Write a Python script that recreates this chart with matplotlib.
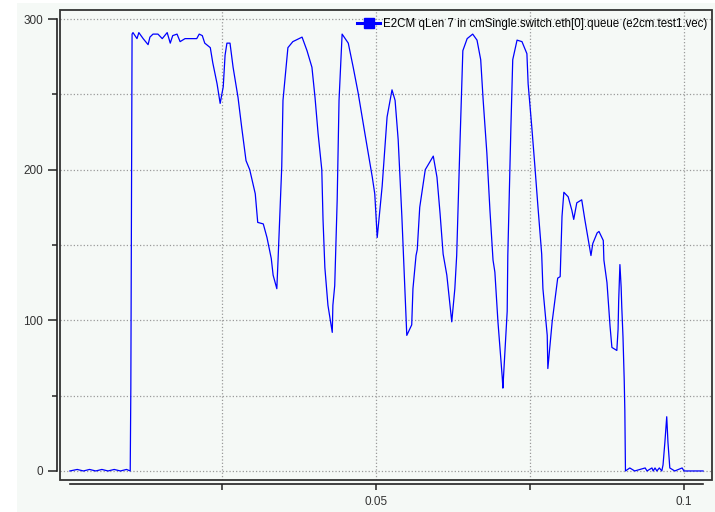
import matplotlib
matplotlib.use("Agg")
import matplotlib.pyplot as plt
from matplotlib.patches import Rectangle
from matplotlib.lines import Line2D

plt.rcParams['font.family'] = ['Liberation Sans', 'DejaVu Sans']

# queue length vector (time in s, qLen)
t = [0.0003, 0.0015, 0.0025, 0.0035, 0.0045, 0.0055, 0.0065, 0.0075, 0.0085, 0.0095,
     0.0101, 0.0102, 0.0103, 0.0104, 0.01055, 0.0112, 0.0115, 0.0122, 0.0130, 0.0133,
     0.0138, 0.0146, 0.0153, 0.0161, 0.0166, 0.0170, 0.0177, 0.0182, 0.0190, 0.0195,
     0.0209, 0.0213, 0.0218, 0.0222, 0.0231, 0.0235, 0.0242, 0.0247, 0.0252, 0.0255,
     0.0258, 0.0263, 0.0268, 0.0276, 0.0282, 0.0289, 0.0295, 0.0304, 0.0308, 0.0317,
     0.0323, 0.0330, 0.0333, 0.0339, 0.0341, 0.0347, 0.0349, 0.0354, 0.0357, 0.0365,
     0.0380, 0.0388, 0.0396, 0.0401, 0.0406, 0.0412, 0.0414, 0.0417, 0.0422, 0.0429,
     0.0430, 0.0433, 0.0437, 0.0440, 0.0445, 0.0455, 0.0463, 0.0471, 0.0482, 0.0494,
     0.0498, 0.0502, 0.0510, 0.0518, 0.0526, 0.0531, 0.0536, 0.0542, 0.0545, 0.0547,
     0.0550, 0.0558, 0.0560, 0.0565, 0.0567, 0.0571, 0.0580, 0.0593, 0.0599, 0.0604,
     0.0609, 0.0615, 0.0623, 0.0628, 0.0631, 0.0636, 0.0641, 0.0648, 0.0657, 0.0664,
     0.0670, 0.0674, 0.0680, 0.0685, 0.0690, 0.0693, 0.0698, 0.0705, 0.0706, 0.0709,
     0.0713, 0.0714, 0.0719, 0.0722, 0.0729, 0.0737, 0.0745, 0.0747, 0.0753, 0.0758,
     0.0763, 0.0769, 0.0771, 0.0778, 0.0779, 0.0781, 0.0786, 0.0791, 0.0795, 0.0799,
     0.0802, 0.0805, 0.0812, 0.0818, 0.0821, 0.0826, 0.0834, 0.0839, 0.0844, 0.0849,
     0.0852, 0.0859, 0.0862, 0.0869, 0.0870, 0.0875, 0.0877, 0.0880, 0.0883, 0.0891,
     0.0893, 0.0894, 0.0896, 0.0898, 0.0899, 0.0901, 0.0903, 0.0904, 0.0905, 0.0912,
     0.0920, 0.0937, 0.0940, 0.0948, 0.0950, 0.0953, 0.0956, 0.0960, 0.0964, 0.0966,
     0.0969, 0.0972, 0.0974, 0.0977, 0.0985, 0.0997, 0.1000, 0.1031]
qlen = [0, 1, 0, 1, 0, 1, 0, 1, 0, 1,
        0, 55, 164, 290, 291, 287, 291, 287, 283, 288,
        290, 290, 287, 291, 284, 289, 290, 285, 287, 287,
        287, 290, 289, 284, 281, 271, 257, 244, 255, 276,
        284, 284, 268, 248, 228, 206, 200, 184, 165, 164,
        155, 141, 130, 121, 140, 202, 246, 268, 281, 285,
        288, 279, 268, 248, 224, 200, 167, 135, 110, 92,
        110, 123, 180, 246, 290, 284, 268, 251, 224, 195,
        184, 155, 189, 235, 253, 246, 220, 169, 140, 121,
        90, 97, 121, 143, 147, 175, 200, 209, 195, 171,
        144, 130, 99, 121, 143, 213, 279, 287, 290, 286,
        273, 246, 211, 173, 140, 132, 99, 62, 55, 77,
        106, 143, 228, 273, 286, 285, 277, 257, 228, 202,
        175, 144, 121, 90, 68, 77, 99, 115, 128, 129,
        169, 185, 182, 173, 167, 178, 180, 167, 155, 143,
        151, 158, 159, 153, 140, 125, 113, 96, 82, 80,
        94, 113, 137, 122, 109, 89, 60, 40, 0, 2,
        0, 2, 0, 2, 0, 2, 0, 2, 0, 4,
        19, 36, 19, 2, 0, 2, 0, 0]

label = "E2CM qLen 7 in cmSingle.switch.eth[0].queue (e2cm.test1.vec)"
xticks = [0.05, 0.1]
xtick_labels = ['0.05', '0.1']
xminor = [0.025, 0.075]
yticks = [0, 100, 200, 300]
yminor = [50, 150, 250]

bg = '#f5f9f6'
fig = plt.figure(figsize=(7.15, 5.12), dpi=100, facecolor=bg)
fig.patches.append(Rectangle((0, 0), 17/715, 1, transform=fig.transFigure,
                             facecolor='white', edgecolor='none', zorder=-5))
fig.patches.append(Rectangle((0, 1 - 3/512), 1, 3/512, transform=fig.transFigure,
                             facecolor='white', edgecolor='none', zorder=-5))

ax = fig.add_axes([60/715, 32/512, 652/715, 470/512], facecolor=bg)
ax.plot(t, qlen, color='#0000ff', lw=0.9)

ax.set_xlim(-0.0013, 0.10455)
ax.set_ylim(-6, 306)

ax.set_xticks(xticks)
ax.set_xticklabels(xtick_labels)
ax.set_xticks(xminor, minor=True)
ax.set_yticks(yticks)
ax.set_yticks(yminor, minor=True)

ax.grid(which='both', linestyle=':', color='#9a9a9a', lw=0.9)
ax.set_axisbelow(True)

for s in ['top', 'right']:
    ax.spines[s].set_visible(False)
ax.spines['left'].set_position(('outward', 2.2))
ax.spines['bottom'].set_position(('outward', 3.0))
ax.spines['left'].set_bounds(0, 300)
ax.spines['bottom'].set_bounds(t[0], t[-1])
for s in ['left', 'bottom']:
    ax.spines[s].set_linewidth(1.2)
    ax.spines[s].set_color('#222222')

# plot frame
ax.add_patch(Rectangle((0, 0), 1, 1, transform=ax.transAxes, fill=False,
                       edgecolor='#333333', lw=1.3, clip_on=False, zorder=5))

ax.tick_params(axis='y', which='major', length=6.5, width=1.1, pad=3.5,
               labelsize=8.5, labelcolor='#333333', color='#222222')
ax.tick_params(axis='y', which='minor', length=3.6, width=1.1, color='#222222')
ax.tick_params(axis='x', which='both', length=4.3, width=1.1, pad=4,
               labelsize=8.5, labelcolor='#333333', color='#222222')

handle = Line2D([], [], color='#0000ff', lw=2.2, marker='s', markersize=7)
ax.legend([handle], [label], loc='upper left', bbox_to_anchor=(0.4555, 0.982),
          frameon=False, fontsize=8.3, borderpad=0, borderaxespad=0,
          handlelength=2.0, handletextpad=0.25)

plt.savefig("out.png", dpi=100, facecolor=bg)
